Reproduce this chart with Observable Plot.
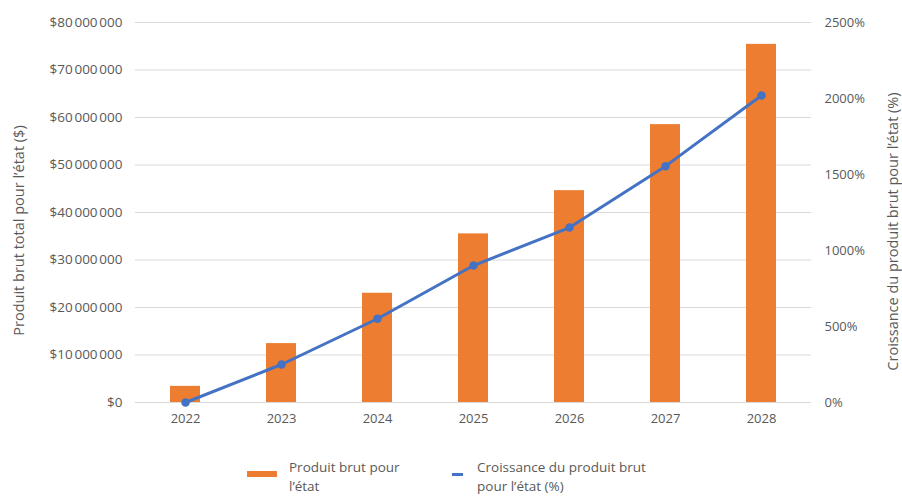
<!DOCTYPE html>
<html>
<head>
<meta charset="utf-8">
<script src="https://cdn.jsdelivr.net/npm/d3@7"></script>
<script src="https://cdn.jsdelivr.net/npm/@observablehq/plot@0.6"></script>
<style>
  html, body { margin: 0; padding: 0; background: #fff; }
  #wrap { position: relative; width: 902px; height: 496px; font-family: "Open Sans", sans-serif; }
  #chart { position: absolute; left: 0; top: 0; }
  .leg { position: absolute; color: #595959; font-size: 13.5px; line-height: 19px; }
  .sw { position: absolute; }
</style>
</head>
<body>
<div id="wrap">
  <div id="chart"></div>
  <div class="sw" style="left:247px; top:471px; width:30px; height:6px; background:#ED7D31;"></div>
  <div class="leg" style="left:289px; top:458px;">Produit brut pour<br>l’état</div>
  <div class="sw" style="left:452px; top:473px; width:11px; height:3px; background:#4472C4;"></div>
  <div class="leg" style="left:477px; top:458px;">Croissance du produit brut<br>pour l’état (%)</div>
</div>
<script>
const years = ["2022", "2023", "2024", "2025", "2026", "2027", "2028"];
const produit = [3.4e6, 12.4e6, 23.0e6, 35.5e6, 44.6e6, 58.5e6, 75.4e6];
const croissance = [0, 250, 551, 901, 1151, 1555, 2020];
const leftTicks = [0, 1e7, 2e7, 3e7, 4e7, 5e7, 6e7, 7e7, 8e7];
const rightTicks = [0, 500, 1000, 1500, 2000, 2500];
const leftTitle = "Produit brut total pour l’état ($)";
const rightTitle = "Croissance du produit brut pour l’état (%)";

// right axis maps 0–2500 % onto the 0–80 000 000 $ y scale
const k = 80e6 / 2500;
const data = years.map((y, i) => ({ year: y, produit: produit[i], growth: croissance[i] * k }));

const fmtMoney = d => "$" + d3.format(",")(d).replace(/,/g, "\u202F");

const chart = Plot.plot({
  width: 902,
  height: 440,
  marginLeft: 135,
  marginRight: 91,
  marginTop: 22,
  marginBottom: 38,
  style: { fontFamily: "'Open Sans', sans-serif", fontSize: "13px", color: "#595959", background: "#fff", overflow: "visible" },
  x: { domain: years, paddingInner: 0.69, paddingOuter: 0.345, label: null },
  y: { domain: [0, 8e7], label: null },
  marks: [
    Plot.gridY(leftTicks, { stroke: "#d9d9d9", strokeOpacity: 1, strokeWidth: 1 }),
    Plot.barY(data, { x: "year", y: "produit", fill: "#ED7D31" }),
    Plot.line(data, { x: "year", y: "growth", stroke: "#4472C4", strokeWidth: 3, curve: "linear" }),
    Plot.dot(data, { x: "year", y: "growth", r: 3.5, fill: "#4472C4", stroke: "#4472C4" }),
    Plot.axisX({ tickSize: 0, tickPadding: 11, label: null, fill: "#595959" }),
    Plot.axisY(leftTicks, { anchor: "left", tickFormat: fmtMoney, tickSize: 0, tickPadding: 13, label: null, fill: "#595959", fontSize: 13.5 }),
    Plot.axisY(rightTicks.map(d => d * k), { anchor: "right", tickFormat: d => Math.round(d / k) + "%", tickSize: 0, tickPadding: 13, label: null, fill: "#595959" }),
    Plot.text([leftTitle], { text: d => d, frameAnchor: "left", textAnchor: "middle", dx: -116, dy: 18, rotate: -90, fontSize: 14.5, fill: "#595959" }),
    Plot.text([rightTitle], { text: d => d, frameAnchor: "right", textAnchor: "middle", dx: 82, dy: 19, rotate: -90, fontSize: 14.5, fill: "#595959" })
  ]
});
document.getElementById("chart").appendChild(chart);
</script>
</body>
</html>
